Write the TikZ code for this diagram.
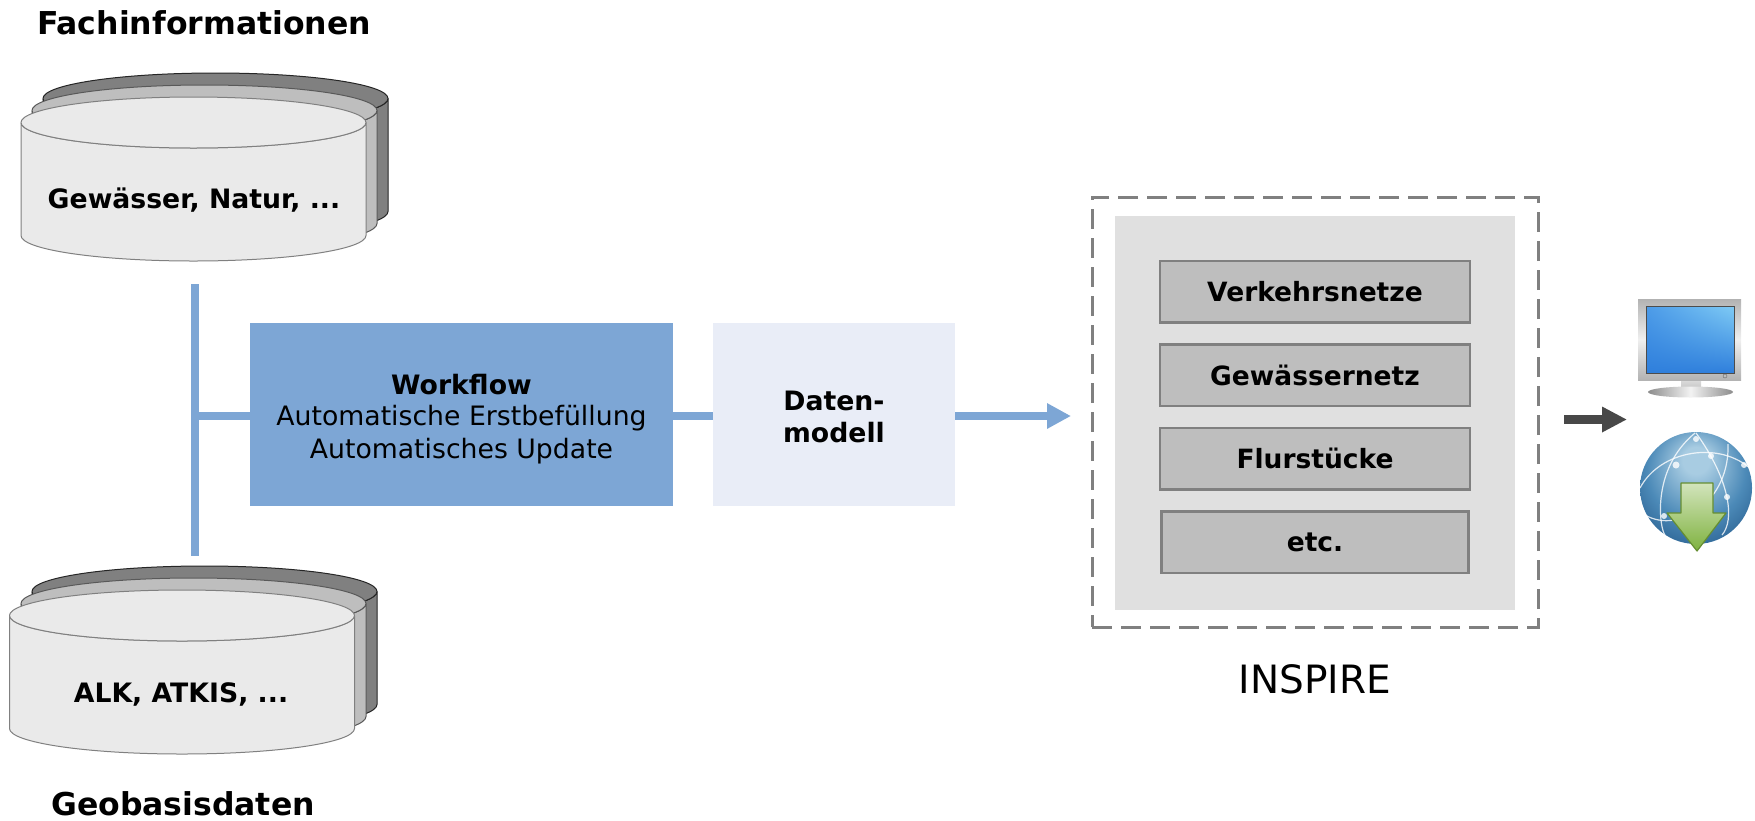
\documentclass[tikz,border=0pt]{standalone}
\usepackage{fontspec}
\setmainfont{DejaVu Sans}
\usetikzlibrary{arrows.meta}
\usetikzlibrary{positioning}
\usetikzlibrary{shadings}
\definecolor{barblue}{HTML}{7DA6D5}
\definecolor{paleblue}{HTML}{E9EDF7}
\definecolor{framegray}{HTML}{808080}
\definecolor{innergray}{HTML}{E0E0E0}
\definecolor{boxgray}{HTML}{BEBEBE}
\definecolor{frontgray}{HTML}{EAEAEA}
\definecolor{arrowgray}{HTML}{484848}
\definecolor{leafgreen}{HTML}{7FB23F}
\definecolor{screenlight}{HTML}{7FCBF5}
\definecolor{screenmid}{HTML}{4C9BE8}
\definecolor{screendark}{HTML}{2F7FDC}
\definecolor{globedark}{HTML}{1F5384}
\definecolor{globemid}{HTML}{4C8AB8}
\definecolor{globelight}{HTML}{A8CCE2}
\pgfdeclareradialshading{globeball}{\pgfpoint{0bp}{14bp}}{color(0bp)=(globelight); color(6bp)=(globelight); color(22bp)=(globemid); color(38bp)=(globedark); color(50bp)=(globedark)}
\begin{document}
\begin{tikzpicture}[x=1pt,y=-1pt,
  inner sep=0pt,outer sep=0pt,
  can/.style={line width=1pt,line join=round},
  head/.style={font=\fontsize{31.5}{36}\selectfont\bfseries,anchor=base},
  label/.style={font=\fontsize{26.7}{32}\selectfont\bfseries,anchor=base},
  plain/.style={font=\fontsize{26.7}{32}\selectfont,anchor=base},
  layer/.style={draw=framegray,line width=2.5pt,fill=boxgray,minimum width=310pt,minimum height=61.5pt,font=\fontsize{26.5}{32}\selectfont\bfseries},
  bar/.style={barblue,line width=8pt},
  flow/.style={bar,-{Triangle[length=24pt,width=24pt]}},
  push/.style={arrowgray,line width=9pt,-{Triangle[length=25pt,width=24pt]}}]
  \useasboundingbox (0,0) rectangle (1755,820);

  \foreach \cx/\cy/\body/\edge in {215.5/155/framegray/black!85,204.5/167/boxgray/black!65,193.5/179/frontgray/framegray,
                                   204.5/648/framegray/black!85,193.5/660/boxgray/black!65,182/672/frontgray/framegray}{
    \draw [can,fill=\body,draw=\edge] (\cx-172.5,\cy-56.5) -- (\cx-172.5,\cy+56.5)
      arc[start angle=180,end angle=0,x radius=172.5,y radius=25.5] -- (\cx+172.5,\cy-56.5)
      arc[start angle=0,end angle=180,x radius=172.5,y radius=25.5];
    \draw [can,fill=\body,draw=\edge] (\cx,\cy-56.5) ellipse[x radius=172.5,y radius=25.5];
  }

  \node [head] (fach) at (204,34) {Fachinformationen};
  \node [label] (fachtext) at (194,208) {Gewässer, Natur, ...};
  \node [label] (basistext) at (181,702) {ALK, ATKIS, ...};
  \node [head] (basis) at (183,815) {Geobasisdaten};

  \coordinate (bartop) at (195,284);
  \coordinate (barbot) at (195,556);
  \coordinate (barmid) at (195,416);
  \draw [bar] (bartop) -- (barbot);

  \node [fill=barblue,minimum width=423pt,minimum height=183pt] (workflow) at (461.5,414.5) {};
  \node [label] (wftitle) at (461.5,394) {Workflow};
  \node [plain] (wfone) at (461.5,425) {Automatische Erstbefüllung};
  \node [plain] (wftwo) at (461.5,458) {Automatisches Update};
  \node [fill=paleblue,minimum width=242pt,minimum height=183pt,right=40pt of workflow] (modell) {};
  \node [label] (datena) at (834,410) {Daten-};
  \node [label] (datenb) at (834,442) {modell};

  \coordinate (wfin) at (workflow.west |- barmid);
  \coordinate (wfout) at (workflow.east |- barmid);
  \coordinate (modin) at (modell.west |- barmid);
  \coordinate (modout) at (modell.east |- barmid);
  \coordinate (flowend) at (1071,416);
  \draw [bar] (barmid) -- (wfin);
  \draw [bar] (wfout) -- (modin);
  \draw [flow] (modout) -- (flowend);

  \node [draw=framegray,line width=3pt,dash pattern=on 20pt off 9pt,minimum width=446pt,minimum height=430pt] (inspire) at (1315,412) {};
  \node [fill=innergray,minimum width=400pt,minimum height=394pt] (theme) at (1315,413) {};
  \node [layer] (verkehr) at (1315,291.5) {Verkehrsnetze};
  \node [layer,below=22pt of verkehr] (gewaesser) {Gewässernetz};
  \node [layer,below=22pt of gewaesser] (flur) {Flurstücke};
  \node [layer,minimum width=307pt,below=22pt of flur] (etc) {etc.};
  \node [font=\fontsize{39}{44}\selectfont,below=38pt of inspire] (inspiretext) {INSPIRE};

  \coordinate (pusha) at (1564,419.5);
  \coordinate (pushb) at (1627,419.5);
  \draw [push] (pusha) -- (pushb);

  \shade [top color=black!12,bottom color=black!25] (1681,378) rectangle (1701,391);
  \shade [left color=black!45,right color=black!45,middle color=black!5] (1648,392) arc[start angle=180,end angle=0,x radius=42.5,y radius=5.5] arc[start angle=0,end angle=-180,x radius=42.5,y radius=5.5];
  \shade [top color=black!30,bottom color=black!30,middle color=black!6] (1638,299) rectangle (1741,380);
  \shade [upper right=screenlight,upper left=screenmid,lower right=screendark,lower left=screendark,draw=black!70] (1646,306) rectangle (1734,373);
  \draw [black!60,fill=black!25] (1725,376) circle[radius=2pt];

  \shade [shading=globeball] (1696,488) circle[radius=56];
  \begin{scope}[white,opacity=.8,line width=1.2pt]
    \draw (1640,488) .. controls (1660,450) and (1720,440) .. (1752,470);
    \draw (1645,515) .. controls (1680,535) and (1730,500) .. (1728,444);
    \draw (1695,433) .. controls (1650,470) and (1660,530) .. (1665,535);
    \draw (1696,433) .. controls (1730,480) and (1735,520) .. (1722,535);
    \fill (1676,465) circle[radius=3.5];
    \fill (1696,439) circle[radius=3];
    \fill (1711,456) circle[radius=3];
    \fill (1744,465) circle[radius=3];
    \fill (1727,497) circle[radius=3];
    \fill (1664,516) circle[radius=3];
  \end{scope}
  \shade [top color=leafgreen!35!white,bottom color=leafgreen,draw=leafgreen!80!black,line width=1.2pt,line join=round] (1681,483) -- (1713,483) -- (1713,513) -- (1726,513) -- (1697,551) -- (1667,513) -- (1681,513) -- cycle;
\end{tikzpicture}
\end{document}
